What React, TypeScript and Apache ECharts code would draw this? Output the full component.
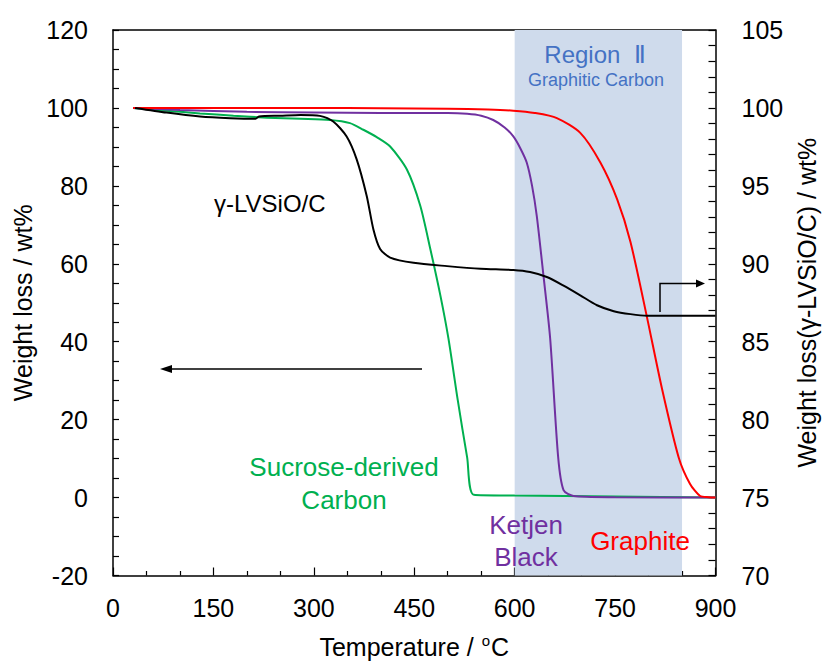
import React, { useEffect, useRef } from "react";
import * as echarts from "echarts";

// Temperature (°C) / weight (wt%) pairs for each TGA trace
const graphiteT = [30, 100, 200, 300, 400, 500, 560, 598, 630, 663, 698, 728, 753, 773, 798, 820, 845, 862, 877, 890, 900];
const graphiteW = [100, 100, 100, 100, 99.9, 99.8, 99.6, 99.3, 98.7, 97.4, 93.6, 86, 76.6, 65.6, 46, 28, 10.3, 3.5, 0.4, 0.1, 0];

const ketjenT = [30, 100, 200, 300, 400, 500, 529, 550, 568, 585, 598, 608, 618, 626, 633, 643, 653, 665, 673, 688, 750, 900];
const ketjenW = [100, 99.5, 99.0, 98.8, 98.7, 98.7, 98.5, 98.0, 96.9, 95, 92.7, 89.8, 86, 80, 72.3, 57, 40.9, 10.3, 1.9, 0.4, 0.1, 0];

const sucroseT = [30, 80, 130, 180, 230, 280, 324, 354, 374, 394, 414, 439, 459, 474, 489, 501, 515, 529, 539, 600, 750, 900];
const sucroseW = [100, 99.3, 98.6, 98.0, 97.5, 97.2, 96.9, 96.1, 94.4, 92.5, 90.1, 84.2, 74.9, 63.8, 51.9, 40.9, 25, 10.3, 0.7, 0.5, 0.3, 0];

// γ-LVSiO/C is read on the right-hand axis
const lvsioT = [33, 80, 130, 175, 213, 218, 250, 280, 309, 329, 349, 364, 379, 389, 399, 414, 449, 499, 549, 598, 623, 648, 673, 698, 723, 748, 773, 798, 850, 900];
const lvsioW = [100, 99.7, 99.45, 99.34, 99.3, 99.45, 99.5, 99.55, 99.49, 99.13, 98.17, 96.7, 94.35, 92.2, 90.95, 90.4, 90.06, 89.85, 89.68, 89.6, 89.47, 89.15, 88.6, 87.98, 87.34, 86.96, 86.77, 86.67, 86.67, 86.67];

// Shaded "Region Ⅱ" temperature window
const regionStart = 600;
const regionEnd = 850;

const FONT = "'Liberation Sans', Arial, sans-serif";

const zip = (xs: number[], ys: number[]) => xs.map((x, i) => [x, ys[i]]);

export default function App() {
  const ref = useRef<HTMLDivElement>(null);

  useEffect(() => {
    if (!ref.current) return;
    const chart = echarts.init(ref.current, null, { renderer: "svg" });

    const lineSeries = (name: string, data: number[][], color: string, yAxisIndex = 0) => ({
      name,
      type: "line",
      data,
      yAxisIndex,
      showSymbol: false,
      symbol: "none",
      smooth: 0.25,
      lineStyle: { color, width: 2 },
      z: 3,
    });

    const axisCommon = {
      axisLine: { show: true, onZero: false, lineStyle: { color: "#000", width: 1.5 } },
      splitLine: { show: false },
      axisLabel: { color: "#000", fontSize: 25, fontFamily: FONT },
      nameTextStyle: { color: "#000", fontSize: 25, fontFamily: FONT },
    };

    const label = (text: string, x: number, y: number, color: string, size: number, align = "center") => ({
      type: "text",
      x,
      y,
      z: 20,
      style: { text, fill: color, font: `${size}px ${FONT}`, textAlign: align, textVerticalAlign: "middle" },
    });

    chart.setOption({
      animation: false,
      grid: { left: 113, right: 113.5, top: 30, bottom: 84.5 },
      xAxis: [
        {
          ...axisCommon,
          type: "value",
          min: 0,
          max: 900,
          interval: 150,
          axisTick: { show: true, inside: true, length: 8, lineStyle: { color: "#000", width: 1.2 } },
          minorTick: { show: true, splitNumber: 3, length: 4.5, lineStyle: { color: "#000", width: 1.2 } },
          axisLabel: { ...axisCommon.axisLabel, margin: 20 },
          name: "{a|Temperature / }{b|o}{a|C}",
          nameLocation: "middle",
          nameGap: 57,
          nameTextStyle: {
            ...axisCommon.nameTextStyle,
            rich: {
              a: { fontSize: 25, fontFamily: FONT, color: "#000", lineHeight: 28 },
              b: { fontSize: 15, fontFamily: FONT, color: "#000", verticalAlign: "top", lineHeight: 28, padding: [0, 1, 10, 1] },
            },
          },
        },
        {
          type: "value",
          min: 0,
          max: 900,
          position: "top",
          axisLine: { show: true, onZero: false, lineStyle: { color: "#000", width: 1.5 } },
          axisTick: { show: false },
          axisLabel: { show: false },
          splitLine: { show: false },
        },
      ],
      yAxis: [
        {
          ...axisCommon,
          type: "value",
          min: -20,
          max: 120,
          interval: 20,
          axisTick: { show: true, inside: true, length: 6, lineStyle: { color: "#000", width: 1.2 } },
          minorTick: { show: true, splitNumber: 4, length: 6, lineStyle: { color: "#000", width: 1.2 } },
          axisLabel: { ...axisCommon.axisLabel, margin: 25 },
          name: "Weight loss / wt%",
          nameLocation: "middle",
          nameRotate: 90,
          nameGap: 66,
        },
        {
          ...axisCommon,
          type: "value",
          position: "right",
          min: 70,
          max: 105,
          interval: 5,
          axisTick: { show: true, inside: true, length: 7, lineStyle: { color: "#000", width: 1.2 } },
          minorTick: { show: true, splitNumber: 5, length: 7, lineStyle: { color: "#000", width: 1.2 } },
          axisLabel: { ...axisCommon.axisLabel, margin: 26 },
          name: "Weight loss(γ-LVSiO/C) / wt%",
          nameLocation: "middle",
          nameRotate: 90,
          nameGap: 74,
        },
      ],
      series: [
        {
          name: "region",
          type: "line",
          data: [],
          z: 1,
          silent: true,
          markArea: {
            silent: true,
            itemStyle: { color: "#cfdbec" },
            data: [[{ xAxis: regionStart }, { xAxis: regionEnd }]],
          },
        },
        lineSeries("Sucrose-derived Carbon", zip(sucroseT, sucroseW), "#00b050"),
        lineSeries("Ketjen Black", zip(ketjenT, ketjenW), "#7030a0"),
        lineSeries("Graphite", zip(graphiteT, graphiteW), "#ff0000"),
        lineSeries("γ-LVSiO/C", zip(lvsioT, lvsioW), "#000000", 1),
      ],
      graphic: [
        label("Region  Ⅱ", 595, 54, "#4472c4", 24),
        label("Graphitic Carbon", 596, 80, "#4472c4", 18),
        label("γ-LVSiO/C", 214, 203, "#000", 24, "left"),
        label("Sucrose-derived", 344, 467, "#00b050", 26),
        label("Carbon", 344, 500, "#00b050", 26),
        label("Ketjen", 526, 525, "#7030a0", 26),
        label("Black", 526, 557, "#7030a0", 26),
        label("Graphite", 640, 541, "#ff0000", 26),
        // arrow pointing to the left-hand axis
        {
          type: "line",
          shape: { x1: 422, y1: 369, x2: 170, y2: 369 },
          style: { stroke: "#000", lineWidth: 1.5 },
          z: 20,
        },
        {
          type: "polygon",
          shape: { points: [[160, 369], [172, 365], [172, 373]] },
          style: { fill: "#000" },
          z: 20,
        },
        // arrow pointing to the right-hand axis
        {
          type: "polyline",
          shape: { points: [[660, 312], [660, 283.5], [697, 283.5]] },
          style: { stroke: "#000", lineWidth: 1.5, fill: null },
          z: 20,
        },
        {
          type: "polygon",
          shape: { points: [[705, 283.5], [696, 279.5], [696, 287.5]] },
          style: { fill: "#000" },
          z: 20,
        },
      ],
    });

    return () => chart.dispose();
  }, []);

  return <div ref={ref} style={{ width: 829, height: 664, position: "absolute", left: 0, top: 0 }} />;
}
